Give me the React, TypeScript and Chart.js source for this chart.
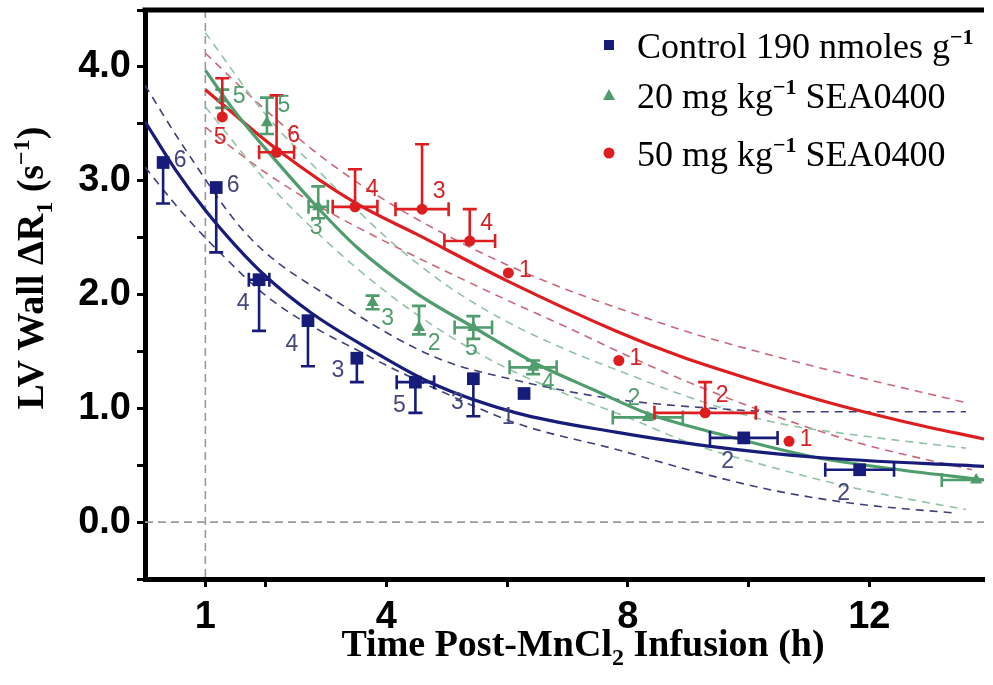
import React, { useEffect, useRef } from "react";
import { Chart, registerables } from "chart.js";

Chart.register(...registerables);

const W = 993;
const H = 685;

// ---------- axes ----------
const xTickValues = [1, 2, 4, 6, 8, 10, 12];
const xTickLabels = ["1", "", "4", "", "8", "", "12"];
const xMin = 0;
const xMax = 13.9;
const yMin = -0.5;
const yMax = 4.5;
const yStep = 0.5;
const refLineX = 1;
const refLineY = 0;

const xTitle = "Time Post-MnCl_{2} Infusion (h)";
const yTitle = "LV Wall ΔR_{1} (s^{−1})";
const seriesNames = [
  "Control 190 nmoles g^{−1}",
  "20 mg kg^{−1} SEA0400",
  "50 mg kg^{−1} SEA0400",
];

// ---------- Control 190 nmoles/g ----------
const ctrlX = [0.3, 1.18, 1.89, 2.7, 3.51, 4.48, 5.44, 6.28, 9.92, 11.84];
const ctrlY = [3.16, 2.94, 2.13, 1.77, 1.44, 1.23, 1.26, 1.13, 0.74, 0.46];
const ctrlErrLow = [0.36, 0.57, 0.45, 0.4, 0.21, 0.27, 0.33, 0, 0, 0];
const ctrlErrHigh = [0, 0, 0, 0, 0, 0, 0, 0, 0, 0];
const ctrlErrX = [0, 0, 0.17, 0, 0, 0.31, 0, 0, 0.56, 0.57];
const ctrlN = ["6", "6", "4", "4", "3", "5", "3", "1", "2", "2"];
const ctrlLabelPos = ["r", "r", "bl", "bl", "l", "bl", "bl", "bl", "bl", "bl"];

const ctrlFitX = [0, 0.5, 1, 1.5, 2, 2.75, 3.75, 4.75, 6.15, 7.8, 9.3, 11.1, 13.9];
const ctrlFitY = [3.52, 3.1, 2.74, 2.43, 2.16, 1.84, 1.51, 1.22, 0.96, 0.79, 0.67, 0.57, 0.49];
const ctrlUpperX = [0, 0.6, 1.7, 3.2, 4.8, 6.2, 7.8, 9.4, 10.6, 13.6];
const ctrlUpperY = [3.84, 3.33, 2.52, 1.93, 1.45, 1.24, 1.08, 1.0, 0.97, 0.97];
const ctrlLowerX = [0, 0.6, 1.2, 2.1, 3.7, 4.7, 6.2, 7.8, 9.0, 10.4, 11.8, 13.4];
const ctrlLowerY = [3.12, 2.73, 2.39, 1.95, 1.46, 1.2, 0.86, 0.64, 0.46, 0.28, 0.16, 0.08];

// ---------- 20 mg/kg SEA0400 ----------
const sea20X = [1.28, 2.02, 2.87, 3.77, 4.54, 5.44, 6.43, 8.33, 13.77];
const sea20Y = [3.72, 3.51, 2.77, 1.93, 1.71, 1.71, 1.36, 0.92, 0.37];
const sea20ErrLow = [0.08, 0.1, 0.1, 0.06, 0.06, 0.1, 0.06, 0, 0];
const sea20ErrHigh = [0.08, 0.22, 0.18, 0.06, 0.19, 0.1, 0.06, 0, 0];
const sea20ErrX = [0, 0, 0.16, 0, 0, 0.31, 0.39, 0.58, 0.57];
const sea20N = ["5", "5", "3", "3", "2", "5", "4", "2", ""];
const sea20LabelPos = ["r", "tr", "b", "br", "br", "b", "br", "tl", "r"];

const sea20FitX = [1, 1.5, 2, 2.85, 3.5, 4.5, 5.45, 6.45, 7.4, 8.35, 9.4, 11.1, 12.5, 13.9];
const sea20FitY = [3.97, 3.6, 3.28, 2.77, 2.42, 2.01, 1.71, 1.4, 1.17, 0.95, 0.79, 0.57, 0.46, 0.37];
const sea20UpperX = [1, 2, 3, 4, 5, 6, 7, 8, 9, 10.4, 12, 13.6];
const sea20UpperY = [4.3, 3.58, 3.02, 2.5, 2.08, 1.76, 1.51, 1.3, 1.1, 0.88, 0.75, 0.65];
const sea20LowerX = [1, 2, 3, 4, 5, 6, 7, 8, 9, 10.4, 12, 13.6];
const sea20LowerY = [3.65, 3.0, 2.47, 2.02, 1.65, 1.35, 1.12, 0.92, 0.7, 0.48, 0.27, 0.11];

// ---------- 50 mg/kg SEA0400 ----------
const sea50X = [1.28, 2.18, 3.48, 4.59, 5.38, 6.02, 7.85, 9.28, 10.67];
const sea50Y = [3.56, 3.25, 2.77, 2.75, 2.47, 2.19, 1.42, 0.96, 0.71];
const sea50ErrLow = [0, 0, 0, 0, 0, 0, 0, 0, 0];
const sea50ErrHigh = [0.34, 0.5, 0.33, 0.57, 0.28, 0, 0, 0.27, 0];
const sea50ErrX = [0, 0.29, 0.37, 0.44, 0.42, 0, 0, 0.84, 0];
const sea50N = ["5", "6", "4", "3", "4", "1", "1", "2", "1"];
const sea50LabelPos = ["b", "tr", "tr", "tr", "tr", "r", "r", "tr", "r"];

const sea50FitX = [1, 2.2, 3.5, 4.5, 6.0, 7.8, 8.9, 10, 11.4, 12.6, 13.9];
const sea50FitY = [3.8, 3.27, 2.8, 2.53, 2.12, 1.68, 1.45, 1.26, 1.04, 0.88, 0.73];
const sea50UpperX = [1, 2, 3, 4, 5, 6, 7, 8, 9, 10, 11, 12, 13.6];
const sea50UpperY = [4.12, 3.62, 3.18, 2.82, 2.52, 2.26, 2.04, 1.85, 1.67, 1.52, 1.38, 1.25, 1.05];
const sea50LowerX = [1, 2, 3, 4, 5, 6, 7, 8, 9, 10, 11, 12, 13.7];
const sea50LowerY = [3.47, 3.07, 2.74, 2.46, 2.2, 1.95, 1.71, 1.46, 1.23, 1.02, 0.83, 0.67, 0.46];

// ---------- styles ----------
const NAVY = "#171b7a";
const GREEN = "#4f9c6d";
const RED = "#dd1d1f";
const NAVY_LBL = "#45457f";
const GREEN_LBL = "#4f9c6d";
const RED_LBL = "#d42224";
const NAVY_BAND = "#3d4079";
const GREEN_BAND = "#93c2a5";
const RED_BAND = "#c9687a";
const REF_GREY = "#9a9a9a";

const SERIF = "'Liberation Serif', 'Times New Roman', serif";
const SANS = "'Liberation Sans', Arial, sans-serif";

const labelOffsets: Record<string, [number, number]> = {
  r: [17, -2],
  l: [-19, 12],
  tr: [17, -17],
  tl: [-14, -19],
  br: [15, 16],
  b: [-2, 21],
  bl: [-16, 24],
};

const xy = (xs: number[], ys: number[]) => xs.map((x, i) => ({ x, y: ys[i] }));

type Seg = { t: string; k: "n" | "sub" | "sup" };
function parseRich(s: string): Seg[] {
  const out: Seg[] = [];
  const re = /([_^])\{([^}]*)\}/g;
  let last = 0;
  let m: RegExpExecArray | null;
  while ((m = re.exec(s))) {
    if (m.index > last) out.push({ t: s.slice(last, m.index), k: "n" });
    out.push({ t: m[2], k: m[1] === "_" ? "sub" : "sup" });
    last = re.lastIndex;
  }
  if (last < s.length) out.push({ t: s.slice(last), k: "n" });
  return out;
}

function drawRich(
  ctx: CanvasRenderingContext2D,
  s: string,
  x: number,
  y: number,
  size: number,
  family: string,
  weight: string,
  align: "left" | "center",
  color: string,
  supWeight: string
) {
  const segs = parseRich(s);
  const fontFor = (k: string) =>
    k === "n" ? `${weight} ${size}px ${family}` : `${supWeight} ${Math.round(size * 0.62)}px ${family}`;
  let total = 0;
  const widths = segs.map((sg) => {
    ctx.font = fontFor(sg.k);
    const w = ctx.measureText(sg.t).width;
    total += w;
    return w;
  });
  let cx = align === "center" ? x - total / 2 : x;
  ctx.fillStyle = color;
  ctx.textBaseline = "alphabetic";
  ctx.textAlign = "left";
  segs.forEach((sg, i) => {
    ctx.font = fontFor(sg.k);
    const dy = sg.k === "sub" ? size * 0.24 : sg.k === "sup" ? -size * 0.38 : 0;
    ctx.fillText(sg.t, cx, y + dy);
    cx += widths[i];
  });
}

const refLinesPlugin = {
  id: "refLines",
  beforeDatasetsDraw(chart: any) {
    const { ctx, chartArea: a, scales } = chart;
    const px = scales.x.getPixelForValue(refLineX);
    const py = scales.y.getPixelForValue(refLineY);
    ctx.save();
    ctx.strokeStyle = REF_GREY;
    ctx.lineWidth = 1.6;
    ctx.setLineDash([8, 5]);
    ctx.beginPath();
    ctx.moveTo(px, a.top);
    ctx.lineTo(px, a.bottom);
    ctx.moveTo(a.left, py);
    ctx.lineTo(a.right, py);
    ctx.stroke();
    ctx.restore();
  },
};

const errorBarPlugin = {
  id: "errBars",
  afterDatasetsDraw(chart: any) {
    const { ctx, chartArea: a, scales } = chart;
    const xs = scales.x;
    const ys = scales.y;
    ctx.save();
    ctx.beginPath();
    ctx.rect(a.left, a.top, a.right - a.left, a.bottom - a.top);
    ctx.clip();
    chart.data.datasets.forEach((ds: any) => {
      if (!ds.errLow) return;
      ctx.strokeStyle = ds.borderColor;
      ctx.lineWidth = 2.6;
      const cap = 7;
      ds.data.forEach((p: any, i: number) => {
        const px = xs.getPixelForValue(p.x);
        const py = ys.getPixelForValue(p.y);
        const lo = ds.errLow[i];
        const hi = ds.errHigh[i];
        const ex = ds.errX[i];
        ctx.beginPath();
        if (lo > 0) {
          const y2 = ys.getPixelForValue(p.y - lo);
          ctx.moveTo(px, py);
          ctx.lineTo(px, y2);
          ctx.moveTo(px - cap, y2);
          ctx.lineTo(px + cap, y2);
        }
        if (hi > 0) {
          const y2 = ys.getPixelForValue(p.y + hi);
          ctx.moveTo(px, py);
          ctx.lineTo(px, y2);
          ctx.moveTo(px - cap, y2);
          ctx.lineTo(px + cap, y2);
        }
        if (ex > 0) {
          const xl = xs.getPixelForValue(p.x - ex);
          const xr = xs.getPixelForValue(p.x + ex);
          ctx.moveTo(xl, py);
          ctx.lineTo(xr, py);
          ctx.moveTo(xl, py - cap);
          ctx.lineTo(xl, py + cap);
          ctx.moveTo(xr, py - cap);
          ctx.lineTo(xr, py + cap);
        }
        ctx.stroke();
      });
    });
    ctx.restore();
  },
};

const pointLabelPlugin = {
  id: "ptLabels",
  afterDatasetsDraw(chart: any) {
    const { ctx, scales } = chart;
    ctx.save();
    ctx.font = `23px ${SANS}`;
    ctx.textAlign = "center";
    ctx.textBaseline = "middle";
    chart.data.datasets.forEach((ds: any) => {
      if (!ds.ptLabels) return;
      ctx.fillStyle = ds.labelColor;
      ds.data.forEach((p: any, i: number) => {
        const t = ds.ptLabels[i];
        if (!t) return;
        const off = labelOffsets[ds.labelPos[i]] || [15, 0];
        ctx.fillText(t, scales.x.getPixelForValue(p.x) + off[0], scales.y.getPixelForValue(p.y) + off[1]);
      });
    });
    ctx.restore();
  },
};

const framePlugin = {
  id: "frame",
  afterDraw(chart: any) {
    const { ctx, chartArea: a } = chart;
    ctx.save();
    ctx.strokeStyle = "#000";
    ctx.lineWidth = 5;
    ctx.beginPath();
    ctx.moveTo(a.left - 2.5, a.top);
    ctx.lineTo(a.right, a.top);
    ctx.stroke();
    ctx.restore();

    // axis titles
    ctx.save();
    drawRich(ctx, xTitle, 583, 656, 38, SERIF, "bold", "center", "#000", "bold");
    ctx.translate(43, 268);
    ctx.rotate(-Math.PI / 2);
    drawRich(ctx, yTitle, 0, 0, 38, SERIF, "bold", "center", "#000", "bold");
    ctx.restore();

    // legend
    const markers = ["rect", "triangle", "circle"];
    const colors = [NAVY, GREEN, RED];
    const rowCenters = [45, 95, 153];
    ctx.save();
    seriesNames.forEach((name, i) => {
      const mx = 609;
      const my = rowCenters[i];
      ctx.fillStyle = colors[i];
      ctx.beginPath();
      if (markers[i] === "rect") ctx.rect(mx - 5, my - 5, 10, 10);
      else if (markers[i] === "triangle") {
        ctx.moveTo(mx, my - 6);
        ctx.lineTo(mx + 6, my + 5);
        ctx.lineTo(mx - 6, my + 5);
        ctx.closePath();
      } else ctx.arc(mx, my, 5.5, 0, Math.PI * 2);
      ctx.fill();
      drawRich(ctx, name, 637, my + 13, 36, SERIF, "normal", "left", "#000", "bold");
    });
    ctx.restore();
  },
};

const band = (xs: number[], ys: number[], color: string) => ({
  type: "line",
  data: xy(xs, ys),
  borderColor: color,
  borderWidth: 1.6,
  borderDash: [8, 6],
  pointRadius: 0,
  fill: false,
  showLine: true,
  cubicInterpolationMode: "monotone",
  order: 5,
});

const fit = (xs: number[], ys: number[], color: string) => ({
  type: "line",
  data: xy(xs, ys),
  borderColor: color,
  borderWidth: 3.2,
  pointRadius: 0,
  fill: false,
  showLine: true,
  cubicInterpolationMode: "monotone",
  order: 3,
});

const points = (
  label: string,
  xs: number[],
  ys: number[],
  lo: number[],
  hi: number[],
  ex: number[],
  n: string[],
  pos: string[],
  color: string,
  lblColor: string,
  style: string,
  radius: number
) => ({
  type: "scatter",
  label,
  data: xy(xs, ys),
  backgroundColor: color,
  borderColor: color,
  borderWidth: 0,
  pointStyle: style,
  pointRadius: radius,
  showLine: false,
  errLow: lo,
  errHigh: hi,
  errX: ex,
  ptLabels: n,
  labelPos: pos,
  labelColor: lblColor,
  order: 1,
});

export default function App() {
  const ref = useRef<HTMLCanvasElement | null>(null);

  useEffect(() => {
    if (!ref.current) return;
    const tickFont = { family: SANS, weight: "bold" as const, size: 38 };
    const chart = new Chart(ref.current, {
      type: "scatter",
      data: {
        datasets: [
          band(ctrlUpperX, ctrlUpperY, NAVY_BAND),
          band(ctrlLowerX, ctrlLowerY, NAVY_BAND),
          band(sea20UpperX, sea20UpperY, GREEN_BAND),
          band(sea20LowerX, sea20LowerY, GREEN_BAND),
          band(sea50UpperX, sea50UpperY, RED_BAND),
          band(sea50LowerX, sea50LowerY, RED_BAND),
          fit(ctrlFitX, ctrlFitY, NAVY),
          fit(sea20FitX, sea20FitY, GREEN),
          fit(sea50FitX, sea50FitY, RED),
          points(seriesNames[0], ctrlX, ctrlY, ctrlErrLow, ctrlErrHigh, ctrlErrX, ctrlN, ctrlLabelPos, NAVY, NAVY_LBL, "rect", 9),
          points(seriesNames[1], sea20X, sea20Y, sea20ErrLow, sea20ErrHigh, sea20ErrX, sea20N, sea20LabelPos, GREEN, GREEN_LBL, "triangle", 7),
          points(seriesNames[2], sea50X, sea50Y, sea50ErrLow, sea50ErrHigh, sea50ErrX, sea50N, sea50LabelPos, RED, RED_LBL, "circle", 5.5),
        ] as any,
      },
      options: {
        responsive: false,
        animation: false,
        layout: { padding: { top: 10, left: 0, right: 0, bottom: 0 } },
        plugins: { legend: { display: false }, tooltip: { enabled: false } },
        scales: {
          x: {
            type: "linear",
            min: xMin,
            max: xMax,
            afterBuildTicks: (s: any) => {
              s.ticks = xTickValues.map((v) => ({ value: v }));
            },
            ticks: {
              autoSkip: false,
              maxRotation: 0,
              padding: 8,
              color: "#000",
              font: tickFont,
              callback: (_v: any, i: number) => xTickLabels[i] ?? "",
            },
            grid: { drawOnChartArea: false, drawTicks: true, tickLength: 8, tickWidth: 3, tickColor: "#000" },
            border: { display: true, color: "#000", width: 5 },
            afterFit: (s: any) => {
              s.height = H - 579;
              s.paddingLeft = 0;
              s.paddingRight = 0;
            },
          },
          y: {
            type: "linear",
            min: yMin,
            max: yMax,
            ticks: {
              stepSize: yStep,
              autoSkip: false,
              padding: 6,
              color: "#000",
              font: tickFont,
              callback: (v: any) => (Math.abs(v - Math.round(v)) < 1e-6 ? Number(v).toFixed(1) : ""),
            },
            grid: { drawOnChartArea: false, drawTicks: true, tickLength: 8, tickWidth: 3, tickColor: "#000" },
            border: { display: true, color: "#000", width: 5 },
            afterFit: (s: any) => {
              s.width = 145;
              s.paddingTop = 0;
              s.paddingBottom = 0;
            },
          },
        },
      } as any,
      plugins: [refLinesPlugin, errorBarPlugin, pointLabelPlugin, framePlugin],
    });
    return () => chart.destroy();
  }, []);

  return (
    <div style={{ position: "fixed", left: 0, top: 0, width: W, height: H, background: "#fff" }}>
      <canvas ref={ref} width={W} height={H} style={{ display: "block" }} />
    </div>
  );
}
